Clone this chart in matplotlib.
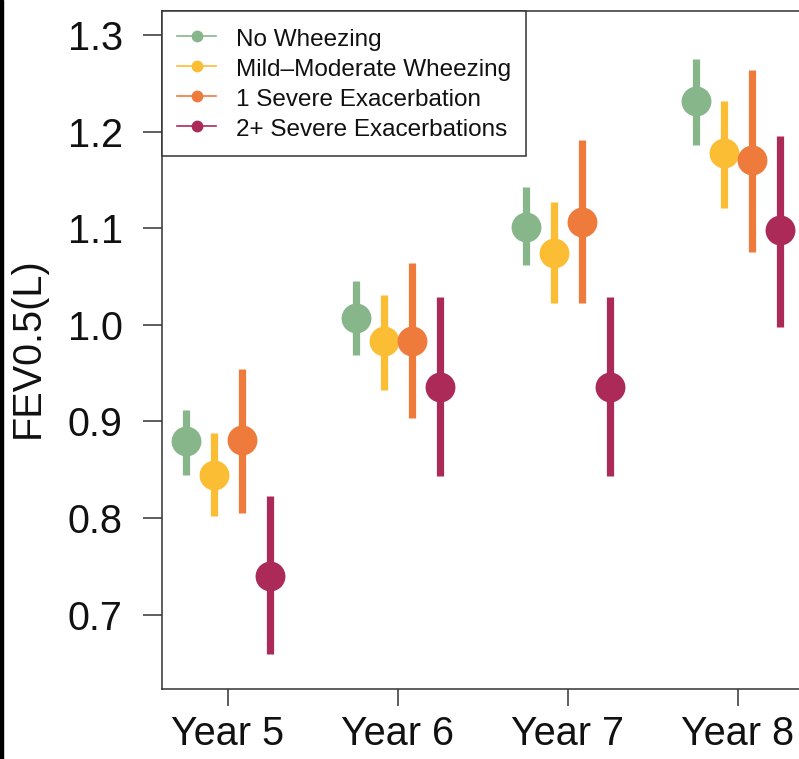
import matplotlib
matplotlib.use("Agg")
import matplotlib.pyplot as plt
from matplotlib.patches import Rectangle
from matplotlib.lines import Line2D
import numpy as np

plt.rcParams['font.family'] = ['Liberation Sans', 'DejaVu Sans']

years = ["Year 5", "Year 6", "Year 7", "Year 8"]
year_pos = [5, 6, 7, 8]

groups = ["No Wheezing", "Mild\u2013Moderate Wheezing", "1 Severe Exacerbation", "2+ Severe Exacerbations"]
colors = ["#88B68B", "#FBBD33", "#EE7A3C", "#AC2A57"]

no_wheeze_mean = [0.880, 1.007, 1.101, 1.232]
no_wheeze_low = [0.845, 0.969, 1.062, 1.186]
no_wheeze_high = [0.912, 1.045, 1.143, 1.275]

mild_mean = [0.845, 0.983, 1.074, 1.178]
mild_low = [0.802, 0.933, 1.023, 1.121]
mild_high = [0.888, 1.031, 1.127, 1.232]

sev1_mean = [0.881, 0.983, 1.106, 1.171]
sev1_low = [0.805, 0.904, 1.023, 1.075]
sev1_high = [0.954, 1.064, 1.191, 1.264]

sev2_mean = [0.740, 0.936, 0.936, 1.098]
sev2_low = [0.659, 0.843, 0.843, 0.998]
sev2_high = [0.823, 1.029, 1.029, 1.195]

offsets = [-0.247, -0.082, 0.082, 0.247]

series = [
    (no_wheeze_mean, no_wheeze_low, no_wheeze_high),
    (mild_mean, mild_low, mild_high),
    (sev1_mean, sev1_low, sev1_high),
    (sev2_mean, sev2_low, sev2_high),
]

W, H = 799, 759
fig = plt.figure(figsize=(W / 100, H / 100), dpi=100)
ax_left = 162 / W
ax_right = 830 / W
ax_bottom = (H - 689) / H
ax_top = (H - 11) / H
ax = fig.add_axes([ax_left, ax_bottom, ax_right - ax_left, ax_top - ax_bottom])

for (m, lo, hi), off, c in zip(series, offsets, colors):
    x = np.array(year_pos) + off
    m = np.array(m); lo = np.array(lo); hi = np.array(hi)
    ax.vlines(x, lo, hi, color=c, linewidth=5.2, capstyle='butt', zorder=2)
    ax.plot(x, m, 'o', color=c, markersize=21.5, markeredgewidth=0, zorder=3)

ax.set_xlim(4.612, 4.612 + 668 / 170)
ax.set_ylim(0.623, 1.3248)

ax.set_xticks(year_pos)
ax.set_xticklabels(years)
ax.set_yticks([0.7, 0.8, 0.9, 1.0, 1.1, 1.2, 1.3])
ax.set_yticklabels(["0.7", "0.8", "0.9", "1.0", "1.1", "1.2", "1.3"])

spine_c = "#333333"
for s in ["left", "bottom", "top", "right"]:
    ax.spines[s].set_color(spine_c)
    ax.spines[s].set_linewidth(1.1)

ax.tick_params(axis='y', length=13.7, width=1.1, color=spine_c, pad=14.5, labelsize=28.5, labelcolor="#111111")
ax.tick_params(axis='x', length=12.5, width=1.1, color=spine_c, pad=6.5, labelsize=28.5, labelcolor="#111111")

fig.text(28 / W, 1 - 348 / H, "FEV0.5(L)", rotation=90, ha='center', va='center',
         fontsize=28.5, color="#111111")

handles = [Line2D([0], [0], color=c, linewidth=1.2, marker='o', markersize=8.5, markeredgewidth=0)
           for c in colors]
leg = ax.legend(handles, groups, loc='upper left', bbox_to_anchor=(0, 1), borderaxespad=0,
                fontsize=17.5, frameon=True, fancybox=False, handlelength=1.6,
                handletextpad=0.8, borderpad=0.63, labelspacing=0.23, handleheight=1.04)
leg.get_frame().set_edgecolor(spine_c)
leg.get_frame().set_linewidth(1.1)
leg.get_frame().set_facecolor("white")
leg.get_frame().set_alpha(1)
for t in leg.get_texts():
    t.set_color("#111111")

fig.patches.append(Rectangle((0, 0), 3 / W, 1, transform=fig.transFigure, color="black", zorder=10))

fig.savefig("out.png", dpi=100)
